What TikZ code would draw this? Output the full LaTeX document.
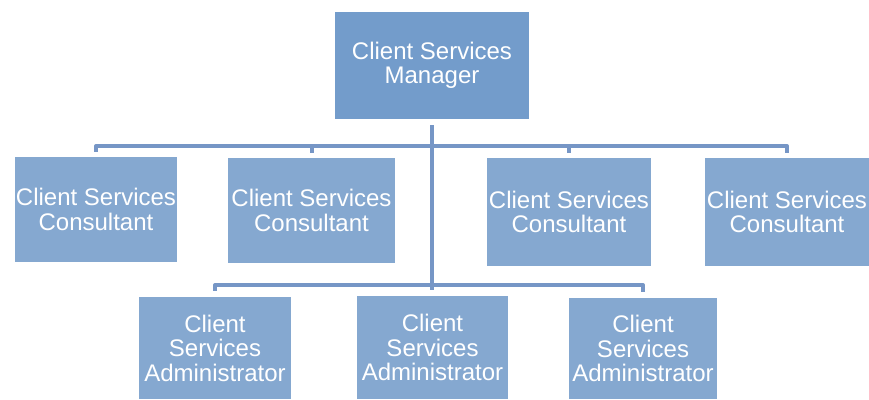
\documentclass[tikz,border=0pt]{standalone}
\usepackage{fontspec}
\setmainfont{Liberation Sans}
\definecolor{mgrfill}{RGB}{115,156,203}
\definecolor{boxfill}{RGB}{133,168,208}
\definecolor{linecol}{RGB}{118,150,198}
\tikzset{
  box/.style={fill=boxfill, draw=none, text=white, align=center, inner sep=0pt,
    font=\fontsize{24}{24.5}\selectfont},
  mgr/.style={box, fill=mgrfill},
  conn/.style={draw=linecol, line width=4pt, line cap=butt, line join=round}
}
\begin{document}
\begin{tikzpicture}[x=1pt,y=-1pt]
\useasboundingbox (0,0) rectangle (869,399);
\node[mgr, minimum width=194pt, minimum height=107pt] (m) at (432,65.5) {Client Services\\Manager};
\node[box, minimum width=162pt, minimum height=105pt] (c1) at (96,209.5) {Client Services\\Consultant};
\node[box, minimum width=167pt, minimum height=105pt] (c2) at (311.5,210.5) {Client Services\\Consultant};
\node[box, minimum width=164pt, minimum height=108pt] (c3) at (569,212) {Client Services\\Consultant};
\node[box, minimum width=164pt, minimum height=108pt] (c4) at (787,212) {Client Services\\Consultant};
\node[box, minimum width=152pt, minimum height=102pt] (a1) at (215,348) {Client\\Services\\Administrator};
\node[box, minimum width=151pt, minimum height=103pt] (a2) at (432.5,347.5) {Client\\Services\\Administrator};
\node[box, minimum width=148pt, minimum height=101pt] (a3) at (643,348.5) {Client\\Services\\Administrator};
\coordinate (top) at (432,146);
\coordinate (low) at (432,285);
% trunk
\draw[conn] ([yshift=-6pt]m.south) -- ([yshift=6pt]a2.north -| m.south);
% upper bar
\draw[conn] ([yshift=5pt]c1.north) |- (top -| c2.north) -| ([yshift=5pt]c4.north);
\draw[conn] ([yshift=5pt]c2.north) -- (top -| c2.north);
\draw[conn] ([yshift=5pt]c3.north) -- (top -| c3.north);
% lower bar
\draw[conn] ([yshift=6pt]a1.north) |- (low) -| ([yshift=6pt]a3.north);
\end{tikzpicture}
\end{document}
